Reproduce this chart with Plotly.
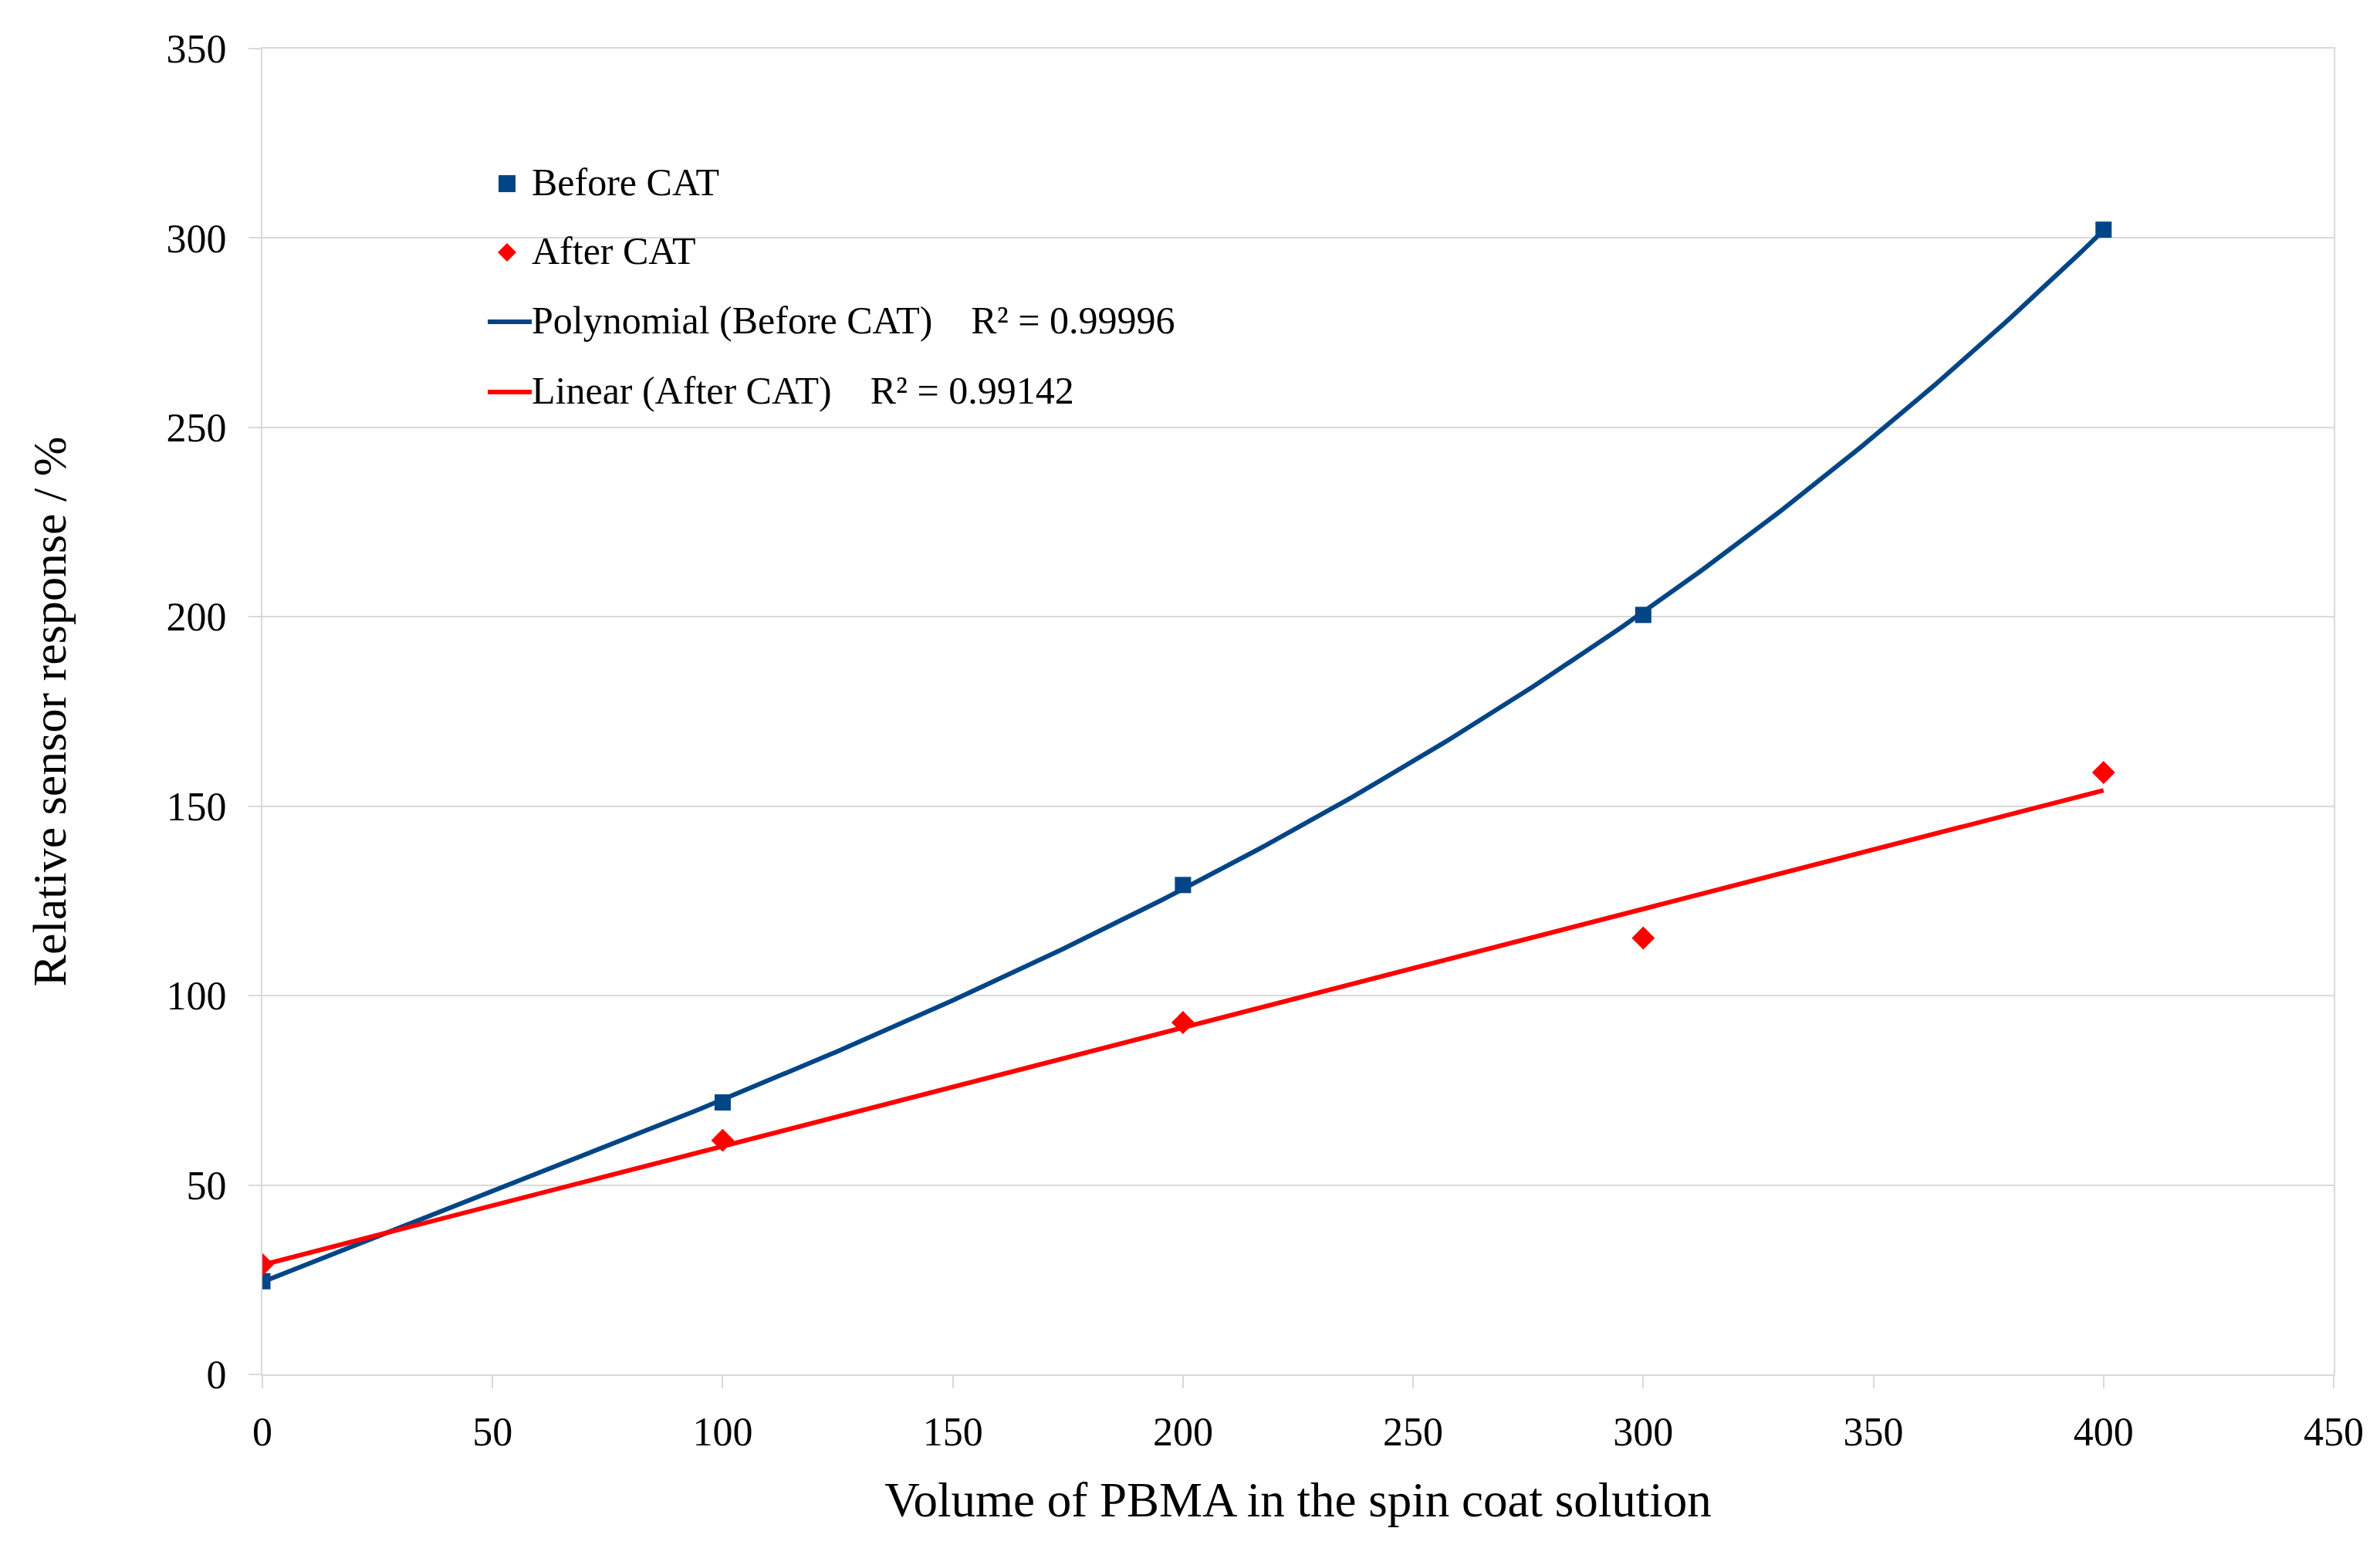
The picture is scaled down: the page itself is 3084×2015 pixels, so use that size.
import numpy as np
import plotly.graph_objects as go

# Data
volume = [0, 100, 200, 300, 400]
before_cat = [24.6, 71.8, 129.2, 200.5, 302.2]
after_cat = [29.0, 61.8, 92.9, 115.2, 158.9]

y_ticks = [0, 50, 100, 150, 200, 250, 300, 350]
x_ticks = [0, 50, 100, 150, 200, 250, 300, 350, 400, 450]

name_before = "Before CAT"
name_after = "After CAT"
name_poly = "Polynomial (Before CAT)\u00a0\u00a0\u00a0\u00a0R² = 0.99996"
name_lin = "Linear (After CAT)\u00a0\u00a0\u00a0\u00a0R² = 0.99142"

BLUE = "#004586"
RED = "#ff0000"
GRID = "#d9d9d9"
FONT = "Liberation Serif"

W, H = 3084, 2015
ML, MR, MT, MB = 332, 68, 55, 242
PW, PH = W - ML - MR, H - MT - MB

# Trendlines computed from the data (as the spreadsheet did)
xs = np.linspace(min(volume), max(volume), 300)
poly = np.polyfit(volume, before_cat, 3)
lin = np.polyfit(volume, after_cat, 1)

fig = go.Figure()
fig.add_trace(go.Scatter(x=xs, y=np.polyval(poly, xs), mode="lines", name=name_poly,
                         line=dict(color=BLUE, width=6), showlegend=False))
fig.add_trace(go.Scatter(x=xs, y=np.polyval(lin, xs), mode="lines", name=name_lin,
                         line=dict(color=RED, width=6), showlegend=False))
fig.add_trace(go.Scatter(x=volume, y=before_cat, mode="markers", name=name_before,
                         marker=dict(symbol="square", size=21, color=BLUE), showlegend=False))
fig.add_trace(go.Scatter(x=volume, y=after_cat, mode="markers", name=name_after,
                         marker=dict(symbol="diamond", size=23, color=RED), showlegend=False))


# ---- legend drawn by hand (larger symbols / longer line keys as in the reference)
def px(xp):
    return (xp - ML) / PW


def py(yp):
    return (H - MB - yp) / PH


key_cx = 649          # symbol centre (pixels)
text_x = 679          # legend text start (pixels)
rows = [230, 319, 409, 500]
shapes = []
annotations = []
# square
s = 11
shapes.append(dict(type="rect", xref="paper", yref="paper",
                   x0=px(key_cx - s), x1=px(key_cx + s), y0=py(rows[0] + s), y1=py(rows[0] - s),
                   fillcolor=BLUE, line=dict(width=0)))
# diamond
d = 12
shapes.append(dict(type="path", xref="paper", yref="paper",
                   path=f"M {px(key_cx - d)} {py(rows[1])} L {px(key_cx)} {py(rows[1] - d)} "
                        f"L {px(key_cx + d)} {py(rows[1])} L {px(key_cx)} {py(rows[1] + d)} Z",
                   fillcolor=RED, line=dict(width=0)))
# line keys
for r, c in ((rows[2], BLUE), (rows[3], RED)):
    shapes.append(dict(type="line", xref="paper", yref="paper",
                       x0=px(624), x1=px(681), y0=py(r), y1=py(r),
                       line=dict(color=c, width=6)))
for r, t in zip(rows, [name_before, name_after, name_poly, name_lin]):
    annotations.append(dict(text=t, xref="paper", yref="paper", x=px(text_x), y=py(r - 2),
                            xanchor="left", yanchor="middle", showarrow=False,
                            font=dict(family=FONT, size=50, color="black")))

axis_common = dict(showline=True, linecolor=GRID, linewidth=2, mirror=True,
                   ticks="outside", ticklen=16, tickcolor=GRID, tickwidth=2,
                   tickfont=dict(family=FONT, size=52, color="black"), zeroline=False)

fig.update_layout(
    width=W, height=H,
    paper_bgcolor="white", plot_bgcolor="white",
    margin=dict(l=ML, r=MR, t=MT, b=MB),
    font=dict(family=FONT, color="black"),
    xaxis=dict(range=[0, 450], tickvals=x_ticks, showgrid=False,
               title=dict(text="Volume of PBMA in the spin coat solution",
                          font=dict(family=FONT, size=63), standoff=38),
               ticklabelstandoff=12, **axis_common),
    yaxis=dict(range=[0, 350], tickvals=y_ticks, showgrid=True, gridcolor=GRID, gridwidth=2,
               title=dict(text="Relative sensor response / %",
                          font=dict(family=FONT, size=62), standoff=110),
               ticklabelstandoff=18, **axis_common),
    shapes=shapes,
    annotations=annotations,
    showlegend=False,
)

fig.write_html("out.html")
